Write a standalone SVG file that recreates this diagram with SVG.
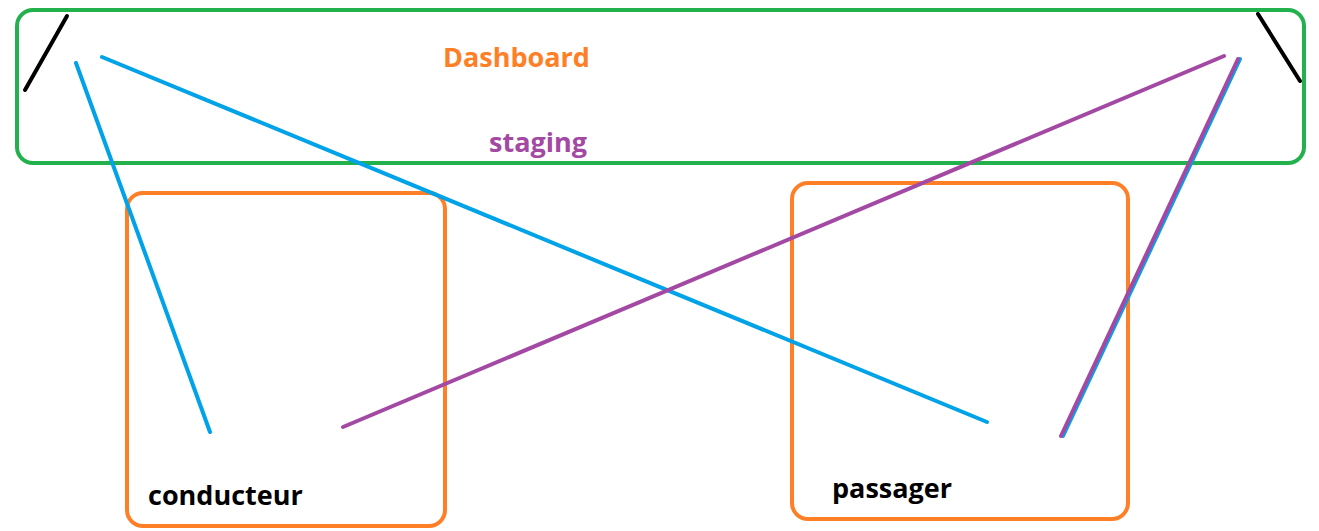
<svg xmlns="http://www.w3.org/2000/svg" width="1319" height="531" viewBox="0 0 1319 531">
<style>
.box{fill:none;stroke:#FF7F27;stroke-width:4}
.lbl{font-family:"Open Sans","Liberation Sans",sans-serif;font-weight:bold;font-size:27px}
.b{stroke:#00A2E8;stroke-width:4;stroke-linecap:round;fill:none}
.p{stroke:#A349A4;stroke-width:4;stroke-linecap:round;fill:none}
.k{stroke:#000;stroke-width:4;stroke-linecap:round;fill:none}
</style>
<rect width="1319" height="531" fill="#fff"/>
<g id="staging">
<rect x="17" y="10" width="1287" height="153" rx="16" fill="none" stroke="#22B14C" stroke-width="4"/>
<text class="lbl" x="443" y="67" fill="#FF7F27">Dashboard</text>
<text class="lbl" x="489" y="152" fill="#A349A4">staging</text>
</g>
<g id="conducteur">
<rect class="box" x="127" y="193" width="318" height="333" rx="16"/>
<text class="lbl" x="148" y="505" fill="#000">conducteur</text>
</g>
<g id="passager">
<rect class="box" x="792" y="183" width="336" height="336" rx="16"/>
<text class="lbl" x="832" y="498" fill="#000">passager</text>
</g>
<g id="connectors">
<line class="k" x1="25" y1="90" x2="67" y2="16"/>
<line class="k" x1="1258" y1="14" x2="1300" y2="81"/>
<line class="b" x1="76" y1="63" x2="210" y2="432"/>
<line class="b" x1="102" y1="57" x2="987" y2="422"/>
<line class="b" x1="1240" y1="59" x2="1063" y2="436"/>
<line class="p" x1="1224" y1="56" x2="343" y2="427"/>
<line class="p" x1="1238" y1="59" x2="1061" y2="436"/>
</g>
</svg>
